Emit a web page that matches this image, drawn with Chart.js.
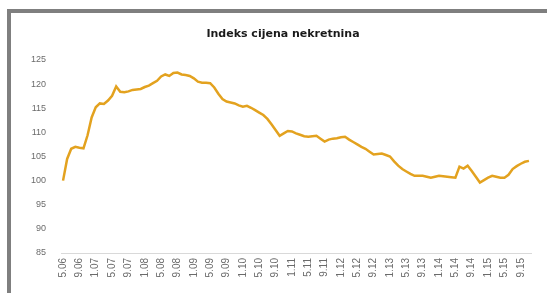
<!DOCTYPE html>
<html>
<head>
<meta charset="utf-8">
<script src="https://cdn.jsdelivr.net/npm/chart.js@4"></script>
<style>
    html, body { margin: 0; padding: 0; background: #fff; }
    #wrap { width: 547px; height: 293px; }
</style>
</head>
<body>
<div id="wrap"><canvas id="myLineChart" width="547" height="293"></canvas></div>
<script>
// tick labels shown on the x axis (every 4th month)
const tickLabels = ['5.06', '9.06',
    '1.07', '5.07', '9.07', '1.08', '5.08', '9.08', '1.09', '5.09', '9.09',
    '1.10', '5.10', '9.10', '1.11', '5.11', '9.11', '1.12', '5.12', '9.12',
    '1.13', '5.13', '9.13', '1.14', '5.14', '9.14', '1.15', '5.15', '9.15'];

// monthly index values, 5.06 .. 11.15
const indexValues = [
    100.0, 104.5, 106.6, 107.0, 106.8, 106.7, 109.4, 113.1, 115.2, 116.0,
    115.9, 116.6, 117.6, 119.5, 118.4, 118.3, 118.5, 118.8, 118.9, 119.0,
    119.4, 119.7, 120.2, 120.7, 121.6, 122.0, 121.7, 122.3, 122.4, 122.0,
    121.9, 121.7, 121.2, 120.5, 120.3, 120.3, 120.2, 119.3, 118.0, 116.9,
    116.4, 116.2, 116.0, 115.6, 115.3, 115.5, 115.1, 114.6, 114.1, 113.6,
    112.8, 111.7, 110.5, 109.3, 109.8, 110.3, 110.2, 109.8, 109.5, 109.2,
    109.1, 109.2, 109.3, 108.7, 108.1, 108.5, 108.7, 108.8, 109.0, 109.1,
    108.5, 108.0, 107.5, 107.0, 106.6, 106.0, 105.4, 105.5, 105.6, 105.3,
    105.0, 104.0, 103.1, 102.4, 101.9, 101.4, 101.0, 101.0, 101.0, 100.8,
    100.6, 100.8, 101.0, 100.9, 100.8, 100.7, 100.6, 102.9, 102.5, 103.1,
    102.0, 100.8, 99.6, 100.1, 100.6, 101.0, 100.8, 100.6, 100.6, 101.2,
    102.4, 103.0, 103.5, 103.9, 104.1
];

// category labels: one per month starting at 5.06
const months = [];
for (let i = 0; i < indexValues.length; i++) {
    const m = (4 + i) % 12 + 1;
    const y = 6 + Math.floor((4 + i) / 12);
    months.push(m + '.' + String(y).padStart(2, '0'));
}

const titleText = 'Indeks cijena nekretnina';

// white background, grey frame and title
const framePlugin = {
    id: 'frame',
    beforeDraw(chart) {
        const c = chart.ctx;
        c.save();
        c.fillStyle = '#ffffff';
        c.fillRect(0, 0, chart.width, chart.height);
        c.fillStyle = '#7f7f7f';
        c.fillRect(7, 9, chart.width - 7, 4);
        c.fillRect(7, 9, 4, chart.height - 9);
        c.restore();
    },
    afterDraw(chart) {
        const c = chart.ctx;
        c.save();
        c.font = 'bold 11px "DejaVu Sans", sans-serif';
        c.fillStyle = '#1a1a1a';
        c.textAlign = 'center';
        c.textBaseline = 'middle';
        c.fillText(titleText, 283, 34);
        c.restore();
    }
};

const ctx = document.getElementById('myLineChart').getContext('2d');

const myLineChart = new Chart(ctx, {
    type: 'line',
    data: {
        labels: months,
        datasets: [{
            label: titleText,
            data: indexValues,
            borderColor: '#e3a21f',
            borderWidth: 2.5,
            pointRadius: 0,
            tension: 0,
            fill: false
        }]
    },
    options: {
        responsive: false,
        animation: false,
        layout: {
            padding: { left: 12, right: 16, top: 60, bottom: 0 }
        },
        plugins: {
            legend: { display: false },
            tooltip: { enabled: false }
        },
        scales: {
            x: {
                offset: true,
                grid: { display: false, drawTicks: false },
                border: { color: '#d9d9d9', width: 1 },
                ticks: {
                    autoSkip: false,
                    minRotation: 90,
                    maxRotation: 90,
                    padding: 5,
                    color: '#6b6b6b',
                    font: { family: '"Liberation Sans", sans-serif', size: 10 },
                    callback: function (value, i) {
                        return i % 4 === 0 ? tickLabels[i / 4] : null;
                    }
                },
                afterFit: function (scale) {
                    scale.height = 40;
                }
            },
            y: {
                min: 85,
                max: 125,
                grid: { display: false, drawTicks: false },
                border: { display: false },
                ticks: {
                    stepSize: 5,
                    padding: 15,
                    color: '#6b6b6b',
                    font: { family: '"Liberation Sans", sans-serif', size: 9 }
                },
                afterFit: function (scale) {
                    scale.width = 49;
                }
            }
        }
    },
    plugins: [framePlugin]
});
</script>
</body>
</html>
